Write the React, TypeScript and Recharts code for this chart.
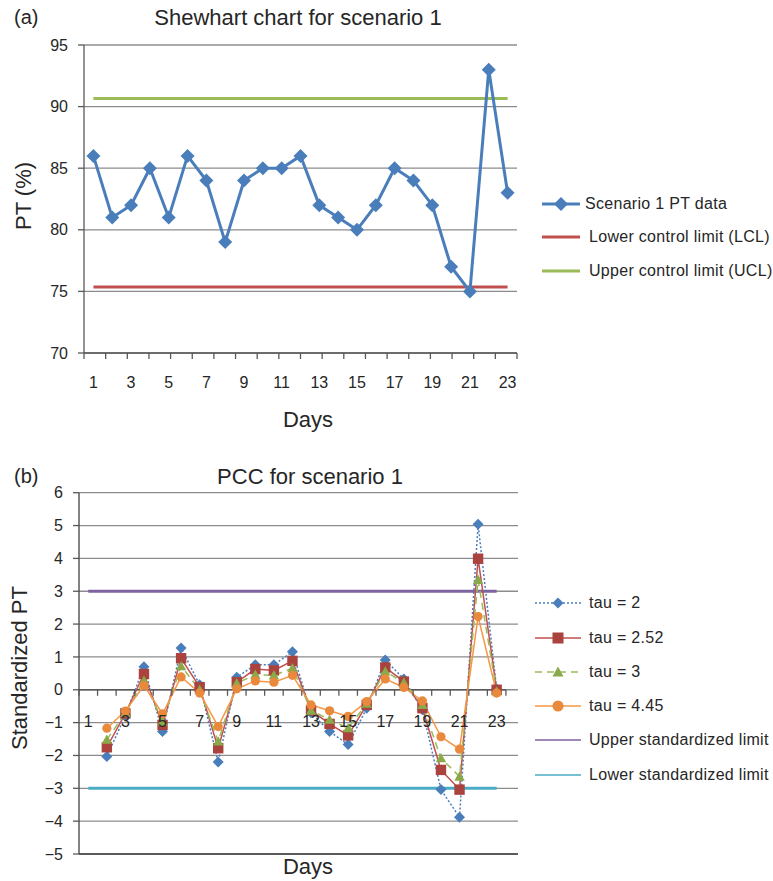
import React from "react";
import { LineChart, Line, XAxis, YAxis, CartesianGrid, ReferenceLine } from "recharts";

const FONT = '"Liberation Sans", Arial, sans-serif';
const TEXT = "#262626";
const AXIS = "#595959";
const GRID = "#8c8c8c";

// (a) Shewhart chart
const days = [1, 2, 3, 4, 5, 6, 7, 8, 9, 10, 11, 12, 13, 14, 15, 16, 17, 18, 19, 20, 21, 22, 23];
const ptValues = [86, 81, 82, 85, 81, 86, 84, 79, 84, 85, 85, 86, 82, 81, 80, 82, 85, 84, 82, 77, 75, 93, 83];
const lclLevel = 75.35;
const uclLevel = 90.65;
const topYTicks = [70, 75, 80, 85, 90, 95];
const dayLabels = [1, 3, 5, 7, 9, 11, 13, 15, 17, 19, 21, 23];

// (b) PCC chart, series start on day 2
const pccDays = [2, 3, 4, 5, 6, 7, 8, 9, 10, 11, 12, 13, 14, 15, 16, 17, 18, 19, 20, 21, 22, 23];
const tau2 = [-2.03, -0.78, 0.7, -1.27, 1.27, 0.15, -2.2, 0.38, 0.76, 0.76, 1.16, -0.7, -1.27, -1.67, -0.56, 0.91, 0.33, -0.61, -3.04, -3.88, 5.04, 0.02];
const tau252 = [-1.75, -0.72, 0.48, -1.07, 0.96, 0.08, -1.78, 0.23, 0.63, 0.59, 0.88, -0.63, -1.04, -1.39, -0.46, 0.68, 0.25, -0.56, -2.44, -3.04, 3.99, 0.0];
const tau3 = [-1.52, -0.7, 0.28, -0.97, 0.72, 0.0, -1.57, 0.2, 0.46, 0.44, 0.66, -0.63, -0.91, -1.17, -0.42, 0.56, 0.22, -0.46, -2.08, -2.64, 3.35, -0.05];
const tau445 = [-1.17, -0.65, 0.13, -0.73, 0.39, -0.1, -1.12, 0.03, 0.27, 0.23, 0.44, -0.46, -0.64, -0.81, -0.36, 0.33, 0.07, -0.34, -1.43, -1.81, 2.23, -0.1];
const upperStd = 3;
const lowerStd = -3;
const bottomYTicks = [-5, -4, -3, -2, -1, 0, 1, 2, 3, 4, 5, 6];

const topData = days.map((d, i) => ({ day: d, pt: ptValues[i], lcl: lclLevel, ucl: uclLevel }));
const bottomData = days.map((d) => {
  const i = pccDays.indexOf(d);
  return {
    day: d,
    t2: i >= 0 ? tau2[i] : null,
    t252: i >= 0 ? tau252[i] : null,
    t3: i >= 0 ? tau3[i] : null,
    t445: i >= 0 ? tau445[i] : null,
    up: upperStd,
    low: lowerStd,
  };
});

// layout (px)
const TOP_H = 440;
const TOP_PLOT_BOTTOM = 353;
const BOT_TOP = 440;
const BOT_H = 441;
const BOT_PLOT_TOP = 52.7;
const BOT_PLOT_H = 361.3;
const BOT_ZERO_Y = BOT_PLOT_TOP + (BOT_PLOT_H * 6) / 11;

// odd tick marks on the top axis (21 of them, like the original)
const topMarks = Array.from({ length: 21 }, (_, k) => 0.5 + (k * 23) / 20);
const topTicks = [...dayLabels, ...topMarks.filter((m) => !dayLabels.includes(m))].sort((a, b) => a - b);
const botMarks = Array.from({ length: 24 }, (_, k) => 0.5 + k);
const botTicks = [...dayLabels, ...botMarks].sort((a, b) => a - b);

const minus = (v: number) => String(v).replace("-", "\u2212");

function TopTick(props: any) {
  const { x, payload } = props;
  const v = payload.value;
  if (dayLabels.includes(v)) {
    return (
      <text x={x} y={TOP_PLOT_BOTTOM + 29} textAnchor="middle" dominantBaseline="central" fontSize={16} fill={TEXT} fontFamily={FONT}>
        {v}
      </text>
    );
  }
  return <line x1={x} x2={x} y1={TOP_PLOT_BOTTOM} y2={TOP_PLOT_BOTTOM + 6} stroke={AXIS} strokeWidth={1.3} />;
}

function BottomTick(props: any) {
  const { x, payload } = props;
  const v = payload.value;
  if (dayLabels.includes(v)) {
    return (
      <text x={x} y={BOT_ZERO_Y + 32} textAnchor="middle" dominantBaseline="central" fontSize={16} fill={TEXT} fontFamily={FONT}>
        {v}
      </text>
    );
  }
  return <line x1={x} x2={x} y1={BOT_ZERO_Y} y2={BOT_ZERO_Y + 6} stroke={AXIS} strokeWidth={1.3} />;
}

function markerShape(kind: string, cx: number, cy: number, fill: string, s: number) {
  if (kind === "diamond")
    return <polygon points={`${cx},${cy - s} ${cx + s},${cy} ${cx},${cy + s} ${cx - s},${cy}`} fill={fill} />;
  if (kind === "square") return <rect x={cx - s} y={cy - s} width={s * 2} height={s * 2} fill={fill} />;
  if (kind === "triangle")
    return <polygon points={`${cx},${cy - s} ${cx + s},${cy + s * 0.8} ${cx - s},${cy + s * 0.8}`} fill={fill} />;
  return <circle cx={cx} cy={cy} r={s} fill={fill} />;
}

const makeDot = (kind: string, fill: string, s: number) => (p: any) => {
  if (p.cy == null || p.value == null) return <g key={p.key} />;
  return <g key={p.key}>{markerShape(kind, p.cx, p.cy, fill, s)}</g>;
};

const topSeries = [
  { key: "pt", name: "Scenario 1 PT data", color: "#4a7ebb", width: 3, dash: undefined, marker: "diamond", markerColor: "#4a7ebb" },
  { key: "lcl", name: "Lower control limit (LCL)", color: "#c0504d", width: 3, dash: undefined, marker: "", markerColor: "" },
  { key: "ucl", name: "Upper control limit (UCL)", color: "#9bbb59", width: 3, dash: undefined, marker: "", markerColor: "" },
];

const bottomSeries = [
  { key: "t2", name: "tau = 2", color: "#4a7ebb", width: 1.5, dash: "2 2", marker: "diamond", markerColor: "#4a7ebb" },
  { key: "t252", name: "tau = 2.52", color: "#c0504d", width: 1.5, dash: undefined, marker: "square", markerColor: "#aa423e" },
  { key: "t3", name: "tau = 3", color: "#9bbb59", width: 1.5, dash: "7 5", marker: "triangle", markerColor: "#8aaa4a" },
  { key: "t445", name: "tau = 4.45", color: "#f79646", width: 1.5, dash: undefined, marker: "circle", markerColor: "#e8893b" },
  { key: "up", name: "Upper standardized limit", color: "#7f62a1", width: 1.5, dash: undefined, marker: "", markerColor: "" },
  { key: "low", name: "Lower standardized limit", color: "#4bacc6", width: 1.5, dash: undefined, marker: "", markerColor: "" },
];

function LegendItem({ item, top, left, lineW, textLeft, fontSize }: any) {
  return (
    <div style={{ position: "absolute", top: top - 12, left, height: 24, width: 240 }}>
      <svg width={lineW} height={24} style={{ position: "absolute", left: 0, top: 0 }}>
        <line x1={0} x2={lineW} y1={12} y2={12} stroke={item.color} strokeWidth={item.width} strokeDasharray={item.dash} />
        {item.marker ? markerShape(item.marker, lineW / 2, 12, item.markerColor, item.marker === "diamond" && item.width > 2 ? 7 : 5.5) : null}
      </svg>
      <div style={{ position: "absolute", left: textLeft, top: 0, lineHeight: "24px", fontSize, whiteSpace: "nowrap", color: TEXT, letterSpacing: 0.3 }}>
        {item.name}
      </div>
    </div>
  );
}

const abs = (s: any): any => ({ position: "absolute", whiteSpace: "nowrap", color: TEXT, ...s });

export default function App() {
  return (
    <div style={{ position: "absolute", left: 0, top: 0, width: 773, height: 881, background: "#fff", fontFamily: FONT }}>
      {/* (a) */}
      <div style={abs({ left: 14, top: 6, fontSize: 20 })}>(a)</div>
      <div style={abs({ left: 298, top: 5, fontSize: 22, transform: "translateX(-50%)" })}>Shewhart chart for scenario 1</div>
      <div style={abs({ left: 24, top: 196, fontSize: 22, transform: "translate(-50%, -50%) rotate(-90deg)" })}>PT (%)</div>
      <div style={abs({ left: 308, top: 407, fontSize: 22, transform: "translateX(-50%)" })}>Days</div>
      <div style={{ position: "absolute", left: 0, top: 0 }}>
        <LineChart width={773} height={TOP_H} data={topData} margin={{ top: 45, right: 256, left: 44, bottom: 57 }}>
          <CartesianGrid horizontal vertical={false} stroke={GRID} strokeWidth={1.3} />
          <XAxis
            dataKey="day"
            type="number"
            domain={[0.5, 23.5]}
            ticks={topTicks}
            interval={0}
            height={30}
            tickLine={false}
            axisLine={{ stroke: AXIS, strokeWidth: 1.3 }}
            tick={<TopTick />}
          />
          <YAxis
            domain={[70, 95]}
            ticks={topYTicks}
            width={40}
            interval={0}
            tickSize={6}
            tickMargin={10}
            axisLine={{ stroke: AXIS, strokeWidth: 1.3 }}
            tickLine={{ stroke: AXIS, strokeWidth: 1.3 }}
            tick={{ fontSize: 16, fill: TEXT, fontFamily: FONT }}
          />
          <Line dataKey="lcl" stroke="#c0504d" strokeWidth={3} dot={false} isAnimationActive={false} />
          <Line dataKey="ucl" stroke="#9bbb59" strokeWidth={3} dot={false} isAnimationActive={false} />
          <Line dataKey="pt" stroke="#4a7ebb" strokeWidth={3} dot={makeDot("diamond", "#4a7ebb", 7)} activeDot={false} isAnimationActive={false} />
        </LineChart>
      </div>
      {topSeries.map((s, i) => (
        <LegendItem key={s.key} item={s} top={[204, 237, 271][i]} left={542} lineW={38} textLeft={i === 0 ? 43 : 47} fontSize={16} />
      ))}

      {/* (b) */}
      <div style={abs({ left: 14, top: 465, fontSize: 20 })}>(b)</div>
      <div style={abs({ left: 310, top: 464, fontSize: 22, transform: "translateX(-50%)" })}>PCC for scenario 1</div>
      <div style={abs({ left: 20, top: 668, fontSize: 22, transform: "translate(-50%, -50%) rotate(-90deg)" })}>Standardized PT</div>
      <div style={abs({ left: 308, top: 854, fontSize: 22, transform: "translateX(-50%)" })}>Days</div>
      <div style={{ position: "absolute", left: 0, top: BOT_TOP }}>
        <LineChart width={773} height={BOT_H} data={bottomData} margin={{ top: BOT_PLOT_TOP, right: 255, left: 39, bottom: BOT_H - BOT_PLOT_TOP - BOT_PLOT_H - 20 }}>
          <CartesianGrid horizontal vertical={false} stroke={GRID} strokeWidth={1.3} />
          <XAxis
            dataKey="day"
            type="number"
            domain={[0.5, 24.15]}
            ticks={botTicks}
            interval={0}
            height={20}
            tickLine={false}
            axisLine={{ stroke: "#404040", strokeWidth: 1.3 }}
            tick={<BottomTick />}
          />
          <YAxis
            domain={[-5, 6]}
            ticks={bottomYTicks}
            width={40}
            interval={0}
            tickSize={6}
            tickMargin={10}
            tickFormatter={minus}
            axisLine={{ stroke: "#404040", strokeWidth: 1.3 }}
            tickLine={{ stroke: AXIS, strokeWidth: 1.3 }}
            tick={{ fontSize: 16, fill: TEXT, fontFamily: FONT }}
          />
          <ReferenceLine segment={[{ x: 0.5, y: 0 }, { x: 23.5, y: 0 }]} stroke={AXIS} strokeWidth={1.3} />
          <Line dataKey="up" stroke="#7f62a1" strokeWidth={3} dot={false} isAnimationActive={false} />
          <Line dataKey="low" stroke="#4bacc6" strokeWidth={3} dot={false} isAnimationActive={false} />
          {bottomSeries.slice(0, 4).map((s) => (
            <Line
              key={s.key}
              dataKey={s.key}
              stroke={s.color}
              strokeWidth={s.width}
              strokeDasharray={s.dash}
              dot={makeDot(s.marker, s.markerColor, s.marker === "circle" ? 4.6 : s.marker === "diamond" ? 5.5 : 5.2)}
              activeDot={false}
              isAnimationActive={false}
            />
          ))}
        </LineChart>
      </div>
      {bottomSeries.map((s, i) => (
        <LegendItem key={s.key} item={s} top={[603, 638, 672, 706, 740, 775][i]} left={535} lineW={46} textLeft={54} fontSize={16} />
      ))}
    </div>
  );
}
